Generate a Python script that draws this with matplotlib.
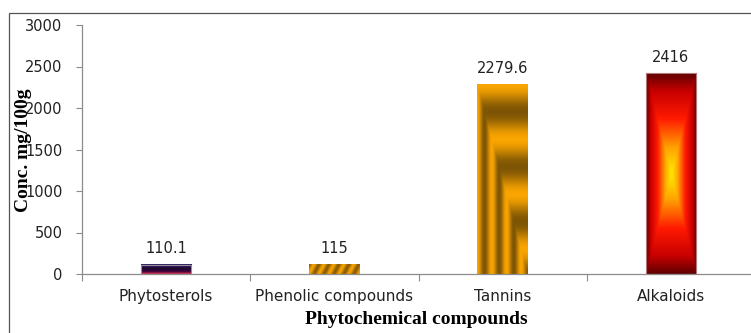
import numpy as np
import matplotlib.pyplot as plt
from matplotlib.patches import Rectangle
from matplotlib.ticker import FixedLocator, NullFormatter

compounds = ["Phytosterols", "Phenolic compounds", "Tannins", "Alkaloids"]
conc = [110.1, 115, 2279.6, 2416]
value_labels = ["110.1", "115", "2279.6", "2416"]
yticks = [0, 500, 1000, 1500, 2000, 2500, 3000]

W, H = 751, 333
GRAY = "#8c8c8c"
TXT = "#222222"


def ramp(t, stops, colors):
    cols = np.array(colors, dtype=float) / 255.0
    return np.stack([np.interp(t, stops, cols[:, k]) for k in range(3)], axis=-1)


def grid(rows, cols):
    v, u = np.mgrid[0:rows, 0:cols]
    return u / (cols - 1), v / (rows - 1)   # u: left->right, v: top->bottom


def fill_phytosterols():
    u, v = grid(60, 60)
    return ramp(v, [0, 0.45, 0.75, 0.88, 1.0],
                [(45, 40, 105), (30, 5, 50), (60, 5, 55), (150, 25, 80), (235, 55, 60)])


def fill_phenolic():
    u, v = grid(40, 200)
    phase = u * 5.1 - (1 - v) * 0.5
    t = 0.5 - 0.5 * np.cos(2 * np.pi * phase)
    return ramp(t, [0, 1], [(245, 165, 0), (140, 90, 5)])


def fill_tannins():
    u, v = grid(400, 120)
    d = np.minimum(u, v)
    t = 0.5 - 0.5 * np.cos(2 * np.pi * d / 0.29)
    return ramp(t, [0, 1], [(250, 165, 0), (125, 85, 5)])


def fill_alkaloids():
    u, v = grid(400, 120)
    d = np.maximum(np.abs(u - 0.5), np.abs(v - 0.5)) * 2
    return ramp(d, [0, 0.25, 0.55, 0.82, 1.0],
                [(255, 235, 0), (255, 165, 0), (255, 25, 0), (200, 0, 0), (95, 0, 0)])


fills = [fill_phytosterols(), fill_phenolic(), fill_tannins(), fill_alkaloids()]
edges = ["#9a8c9a", None, None, "#b07878"]

fig = plt.figure(figsize=(W / 100, H / 100), dpi=100)
ax = fig.add_axes([82 / W, 1 - 274 / H, 673 / W, 249 / H])

bw = 0.3
x = np.arange(len(compounds))
for xi, val, img, ec, lab in zip(x, conc, fills, edges, value_labels):
    ax.imshow(img, extent=(xi - bw / 2, xi + bw / 2, 0, val), aspect="auto",
              interpolation="bilinear", zorder=2)
    if ec:
        ax.add_patch(Rectangle((xi - bw / 2, 0), bw, val, fill=False,
                               edgecolor=ec, lw=0.8, zorder=3))
    ax.annotate(lab, (xi, val), xytext=(0, 8.6), textcoords="offset points",
                ha="center", va="baseline", fontsize=10.5, color=TXT,
                family="DejaVu Sans")

ax.set_xlim(-0.5, 3.5)
ax.set_ylim(0, 3000)
ax.set_yticks(yticks)
ax.set_yticklabels([str(t) for t in yticks], fontsize=10.5, color=TXT,
                   family="DejaVu Sans")

# category labels sit between boundary ticks
ax.xaxis.set_major_locator(FixedLocator([-0.5, 0.5, 1.5, 2.5, 3.5]))
ax.xaxis.set_major_formatter(NullFormatter())
ax.xaxis.set_minor_locator(FixedLocator(x))
ax.set_xticklabels(compounds, minor=True, fontsize=11, color=TXT,
                   family="DejaVu Sans")
ax.tick_params(axis="x", which="minor", length=0, pad=11)
ax.tick_params(axis="x", which="major", length=5, color=GRAY, width=0.8)
ax.tick_params(axis="y", length=4, color=GRAY, width=0.8, pad=10)

for side in ["top", "right"]:
    ax.spines[side].set_visible(False)
for side in ["left", "bottom"]:
    ax.spines[side].set_color(GRAY)
    ax.spines[side].set_linewidth(0.9)

fig.text(24 / W, 1 - 150 / H, "Conc. mg/100g", rotation=90, ha="center",
         va="center", fontsize=14, fontweight="bold", family="Liberation Serif",
         color="black")
fig.text(416 / W, 1 - 324 / H, "Phytochemical compounds", ha="center",
         va="baseline", fontsize=14, fontweight="bold",
         family="Liberation Serif", color="black")

# chart frame, running off the right and bottom edges
fig.add_artist(Rectangle((8.5 / W, -0.1), 1.2, 1 - 12.5 / H + 0.1,
                         transform=fig.transFigure, fill=False,
                         edgecolor="#555555", lw=0.9))

fig.savefig("out.png", dpi=100)
